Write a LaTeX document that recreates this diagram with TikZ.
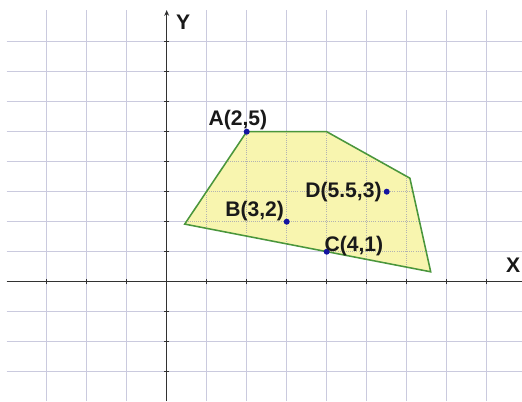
\documentclass[tikz,border=0pt]{standalone}
\usepackage{fontspec}
\setmainfont{Liberation Sans}
\usetikzlibrary{arrows.meta}
\definecolor{gridc}{RGB}{202,202,222}
\definecolor{axisc}{RGB}{50,50,50}
\definecolor{polyfill}{RGB}{248,245,175}
\definecolor{polyedge}{RGB}{74,150,60}
\definecolor{ptc}{RGB}{20,20,160}
\begin{document}
\begin{tikzpicture}[x=1cm,y=0.75cm,
  gridline/.style={gridc, line width=0.7pt},
  innergrid/.style={gray!60, line width=0.5pt, densely dotted},
  axisline/.style={axisc, line width=1.1pt},
  tickmark/.style={axisc, line width=0.8pt},
  polyline/.style={polyedge, line width=1.1pt, line join=miter},
  pt/.style={circle, fill=ptc, inner sep=0pt, minimum size=0.15cm},
  lbl/.style={inner sep=0pt, anchor=base west, font=\bfseries\fontsize{15}{15}\selectfont, text=black!90}]
% bounding box / background
\fill[white] (-4.1675,-3.977) rectangle (8.8825,9.39);
\useasboundingbox (-4.1675,-3.977) rectangle (8.8825,9.39);
% grid
\foreach \i in {-3,...,8} \draw[gridline] (\i,-3.977) -- (\i,9.06);
\foreach \j in {-3,...,8} \draw[gridline] (-4,\j) -- (8.8825,\j);
% polygon
\coordinate (L) at (0.45,1.92);
\coordinate (P1) at (2,5);
\coordinate (T) at (4,5);
\coordinate (R) at (6.08,3.45);
\coordinate (Q) at (6.6,0.33);
\fill[polyfill] (L) -- (P1) -- (T) -- (R) -- (Q) -- cycle;
\begin{scope}
  \clip (L) -- (P1) -- (T) -- (R) -- (Q) -- cycle;
  \foreach \i in {1,...,6} \draw[innergrid] (\i,0) -- (\i,6);
  \foreach \j in {1,...,4} \draw[innergrid] (0,\j) -- (7,\j);
\end{scope}
\draw[polyline] (L) -- (P1) -- (T) -- (R) -- (Q) -- cycle;
% axes
\coordinate (xl) at (-4,0);
\coordinate (xr) at (8.8825,0);
\coordinate (yb) at (0,-3.977);
\coordinate (yt) at (0,9.05);
\draw[axisline] (xl) -- (xr);
\draw[axisline, -{Stealth[length=4pt,width=3.5pt]}] (yb) -- (yt);
\foreach \i in {-3,...,8} \draw[tickmark] (\i,-0.08) -- (\i,0.08);
\foreach \j in {-3,...,8} \draw[tickmark] (-0.06,\j) -- (0.06,\j);
\node[lbl] (xlab) at (8.48,0.3) {X};
\node[lbl] (ylab) at (0.23,8.41) {Y};
% points
\node[pt] (A) at (2,5) {};
\node[pt] (B) at (3,2) {};
\node[pt] (C) at (4,1) {};
\node[pt] (D) at (5.5,3) {};
\node[lbl] (Alab) at (1.04,5.21) {A(2,5)};
\node[lbl] (Blab) at (1.46,2.17) {B(3,2)};
\node[lbl] (Dlab) at (3.46,2.81) {D(5.5,3)};
\node[lbl] (Clab) at (3.94,1.0) {C(4,1)};
\end{tikzpicture}
\end{document}
